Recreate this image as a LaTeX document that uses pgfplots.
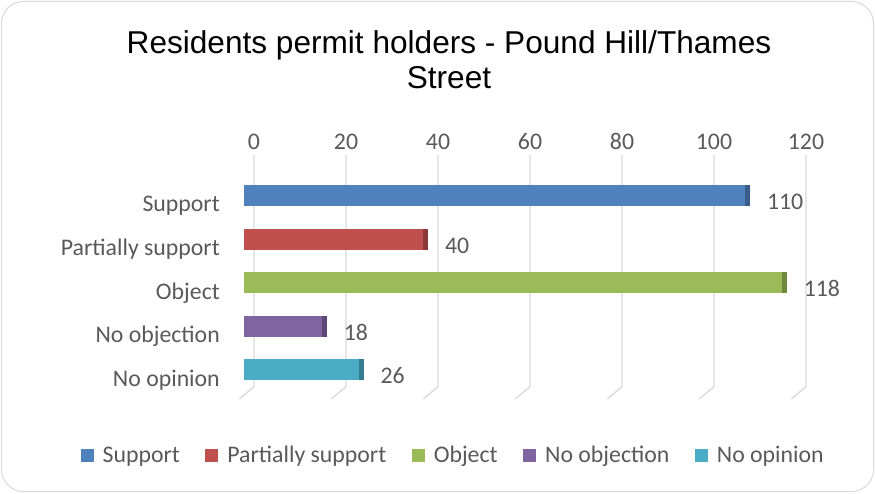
\documentclass[border=0pt]{standalone}
\usepackage{pgfplots}
\pgfplotsset{compat=1.18}
\usepackage{fontspec}
\setmainfont{Carlito}
\newfontfamily\titlefont{Liberation Sans}
\definecolor{cBlue}{HTML}{4F81BD}
\definecolor{cRed}{HTML}{C0504D}
\definecolor{cGreen}{HTML}{9BBB59}
\definecolor{cPurple}{HTML}{8064A2}
\definecolor{cTeal}{HTML}{4BACC6}
\definecolor{dBlue}{HTML}{385D8A}
\definecolor{dRed}{HTML}{8C3836}
\definecolor{dGreen}{HTML}{71893F}
\definecolor{dPurple}{HTML}{5C4776}
\definecolor{dTeal}{HTML}{357D91}
\definecolor{txt}{HTML}{595959}
\definecolor{grid}{HTML}{D9D9D9}
\begin{document}
\begin{tikzpicture}[x=1pt,y=1pt]
\useasboundingbox (0,0) rectangle (875,493);
\draw[grid, line width=1pt, rounded corners=22pt] (1.5,1.5) rectangle (873.5,491.5);
\node[anchor=base, inner sep=0pt, font=\titlefont\fontsize{31.6}{35}\selectfont] at (449,439) {Residents permit holders - Pound Hill/Thames};
\node[anchor=base, inner sep=0pt, font=\titlefont\fontsize{31.6}{35}\selectfont] at (449,404) {Street};
\begin{axis}[
  at={(244pt,94pt)}, anchor=south west,
  scale only axis, width=552pt, height=244pt,
  xmin=0, xmax=120, ymin=-0.67, ymax=4.94,
  clip=false,
  xbar, bar width=21pt, bar shift=0pt,
  axis line style={draw=none}, major tick length=0pt,
  xtick={0,20,40,60,80,100,120}, xticklabel pos=upper,
  ytick={0,1,2,3,4},
  yticklabels={No opinion,No objection,Object,Partially support,Support},
  /pgf/number format/assume math mode=true,
  ticklabel style={font=\fontsize{23.8}{28}\selectfont, text=txt},
  xticklabel style={inner sep=0pt, xshift=10pt},
  yticklabel style={inner sep=0pt, anchor=east, xshift=-24pt, yshift=-10pt},
  xticklabel shift=5pt,
  nodes near coords,
  nodes near coords style={anchor=west, inner sep=0pt, xshift=17pt, yshift=-6pt, font=\fontsize{23.8}{28}\selectfont, text=txt},
  legend columns=5,
  legend style={at={(0.379,-0.23)}, anchor=center, draw=none, fill=none,
    font=\fontsize{23.8}{28}\selectfont, text=txt,
    /tikz/every odd column/.append style={column sep=7pt},
    /tikz/every even column/.append style={column sep=23.5pt},
    inner sep=0pt},
  legend image code/.code={\fill[#1,draw=none] (0pt,-6.5pt) rectangle (13pt,6.5pt);},
]
\pgfplotsinvokeforeach{0,20,40,60,80,100,120}{
  \draw[grid, line width=1.3pt] ([xshift=10pt]axis cs:#1,4.94) -- ([xshift=10pt]axis cs:#1,-0.39) -- ([xshift=-5pt]axis cs:#1,-0.67);
}
\addplot[fill=cBlue, draw=none, mark=|, mark size=10.5pt, mark options={draw=dBlue, line width=5pt, xshift=-2.5pt}] coordinates {(110,4)};
\addplot[fill=cRed, draw=none, mark=|, mark size=10.5pt, mark options={draw=dRed, line width=5pt, xshift=-2.5pt}] coordinates {(40,3)};
\addplot[fill=cGreen, draw=none, mark=|, mark size=10.5pt, mark options={draw=dGreen, line width=5pt, xshift=-2.5pt}] coordinates {(118,2)};
\addplot[fill=cPurple, draw=none, mark=|, mark size=10.5pt, mark options={draw=dPurple, line width=5pt, xshift=-2.5pt}] coordinates {(18,1)};
\addplot[fill=cTeal, draw=none, mark=|, mark size=10.5pt, mark options={draw=dTeal, line width=5pt, xshift=-2.5pt}] coordinates {(26,0)};
\legend{Support,Partially support,Object,No objection,No opinion}
\end{axis}
\end{tikzpicture}
\end{document}
